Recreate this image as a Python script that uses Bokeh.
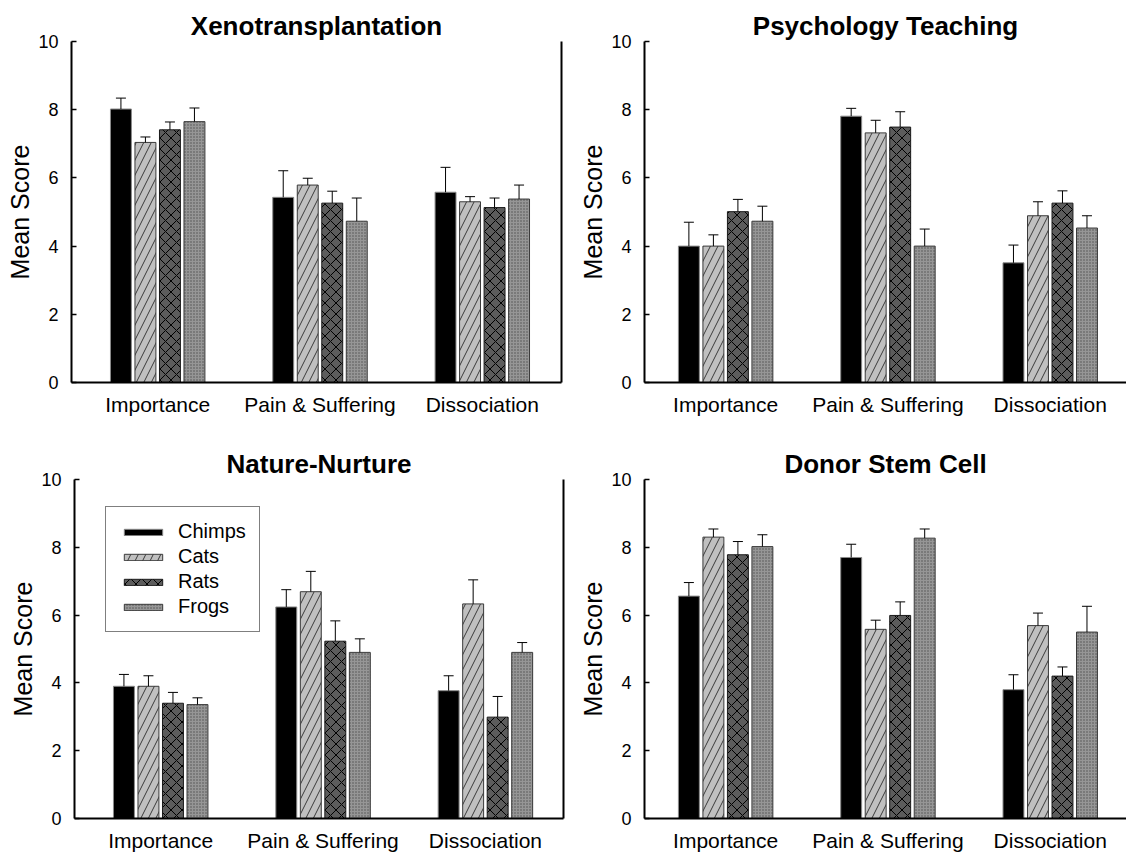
from bokeh.plotting import figure
from bokeh.models import (ColumnDataSource, Range1d, FixedTicker, Whisker, TeeHead,
                          LinearAxis, Legend, LegendItem)
from bokeh.layouts import column, row
from bokeh.embed import file_html
from bokeh.resources import INLINE

FONT = "Liberation Sans"

groups = ["Importance", "Pain & Suffering", "Dissociation"]
species = ["Chimps", "Cats", "Rats", "Frogs"]
titles = ["Xenotransplantation", "Psychology Teaching", "Nature-Nurture", "Donor Stem Cell"]
y_ticks = [0, 2, 4, 6, 8, 10]

# Xenotransplantation
xeno_chimps = [8.02, 5.43, 5.58]
xeno_cats = [7.04, 5.79, 5.30]
xeno_rats = [7.41, 5.26, 5.13]
xeno_frogs = [7.65, 4.73, 5.38]
xeno_chimps_err = [0.32, 0.78, 0.73]
xeno_cats_err = [0.16, 0.20, 0.15]
xeno_rats_err = [0.23, 0.35, 0.28]
xeno_frogs_err = [0.40, 0.68, 0.41]

# Psychology Teaching
psych_chimps = [4.00, 7.81, 3.51]
psych_cats = [4.00, 7.32, 4.89]
psych_rats = [5.01, 7.49, 5.26]
psych_frogs = [4.73, 4.00, 4.53]
psych_chimps_err = [0.70, 0.23, 0.52]
psych_cats_err = [0.33, 0.37, 0.41]
psych_rats_err = [0.36, 0.45, 0.36]
psych_frogs_err = [0.44, 0.50, 0.36]

# Nature-Nurture
nature_chimps = [3.90, 6.24, 3.77]
nature_cats = [3.90, 6.69, 6.33]
nature_rats = [3.40, 5.23, 2.99]
nature_frogs = [3.36, 4.90, 4.90]
nature_chimps_err = [0.35, 0.51, 0.44]
nature_cats_err = [0.31, 0.60, 0.71]
nature_rats_err = [0.32, 0.60, 0.61]
nature_frogs_err = [0.20, 0.40, 0.29]

# Donor Stem Cell
donor_chimps = [6.56, 7.70, 3.80]
donor_cats = [8.30, 5.58, 5.69]
donor_rats = [7.78, 5.99, 4.20]
donor_frogs = [8.02, 8.27, 5.50]
donor_chimps_err = [0.40, 0.39, 0.44]
donor_cats_err = [0.24, 0.27, 0.37]
donor_rats_err = [0.39, 0.40, 0.27]
donor_frogs_err = [0.35, 0.27, 0.76]

panel_means = [
    [xeno_chimps, xeno_cats, xeno_rats, xeno_frogs],
    [psych_chimps, psych_cats, psych_rats, psych_frogs],
    [nature_chimps, nature_cats, nature_rats, nature_frogs],
    [donor_chimps, donor_cats, donor_rats, donor_frogs],
]
panel_errs = [
    [xeno_chimps_err, xeno_cats_err, xeno_rats_err, xeno_frogs_err],
    [psych_chimps_err, psych_cats_err, psych_rats_err, psych_frogs_err],
    [nature_chimps_err, nature_cats_err, nature_rats_err, nature_frogs_err],
    [donor_chimps_err, donor_cats_err, donor_rats_err, donor_frogs_err],
]

STYLES = [
    dict(fill_color="#000000", line_color="#8a8a8a"),
    dict(fill_color="#c0c0c0", line_color="#3a3a3a", hatch_pattern="right_diagonal_line",
         hatch_color="#3a3a3a", hatch_scale=15, hatch_weight=1),
    dict(fill_color="#5c5c5c", line_color="#1a1a1a", hatch_pattern="diagonal_cross",
         hatch_color="#000000", hatch_scale=11, hatch_weight=1),
    dict(fill_color="#969696", line_color="#3a3a3a", hatch_pattern="dot",
         hatch_color="#505050", hatch_scale=3, hatch_weight=1),
]

PITCH = 0.151
BAR_W = 0.129


def make_panel(idx, width, height, bl, br, bt, bb, x0, x1, right_line, legend_loc=None):
    p = figure(width=width, height=height, x_range=Range1d(x0, x1), y_range=Range1d(0, 10),
               output_backend="svg", toolbar_location=None,
               min_border_left=bl, min_border_right=br, min_border_top=bt, min_border_bottom=bb)
    p.outline_line_color = None
    p.background_fill_color = "white"
    p.border_fill_color = "white"
    p.grid.visible = False

    p.title.text = titles[idx]
    p.title.align = "center"
    p.title.text_font = FONT
    p.title.text_font_size = "26px"
    p.title.text_font_style = "bold"
    p.title.text_color = "black"
    p.title.standoff = 2

    # y axis
    ya = p.yaxis[0]
    ya.ticker = FixedTicker(ticks=y_ticks)
    ya.axis_label = "Mean Score"
    ya.axis_label_text_font = FONT
    ya.axis_label_text_font_size = "25px"
    ya.axis_label_text_font_style = "normal"
    ya.axis_label_text_color = "black"
    ya.axis_label_standoff = 1
    ya.major_label_text_font = FONT
    ya.major_label_text_font_size = "18px"
    ya.major_label_text_color = "black"
    ya.major_label_standoff = 13
    ya.major_tick_in = 5
    ya.major_tick_out = 0
    ya.major_tick_line_width = 1.5
    ya.major_tick_line_color = "black"
    ya.minor_tick_line_color = None
    ya.axis_line_width = 2
    ya.axis_line_color = "black"

    # x axis with the group names
    centers = [i + 0.5 for i in range(len(groups))]
    xa = p.xaxis[0]
    xa.ticker = FixedTicker(ticks=centers)
    xa.major_label_overrides = {c: g for c, g in zip(centers, groups)}
    xa.major_label_text_font = FONT
    xa.major_label_text_font_size = "21px"
    xa.major_label_text_color = "black"
    xa.major_label_standoff = 4
    xa.major_tick_line_color = None
    xa.minor_tick_line_color = None
    xa.axis_line_width = 2
    xa.axis_line_color = "black"

    renderers = []
    for k, (means, errs) in enumerate(zip(panel_means[idx], panel_errs[idx])):
        xs = [c + (k - 1.5) * PITCH for c in centers]
        src = ColumnDataSource(dict(x=xs, top=means, upper=[m + e for m, e in zip(means, errs)]))
        r = p.vbar(x="x", top="top", bottom=0, width=BAR_W, source=src, line_width=1, **STYLES[k])
        renderers.append(r)
        p.add_layout(Whisker(source=src, base="x", upper="upper", lower="top",
                             upper_head=TeeHead(size=10, line_width=1, line_color="black"),
                             lower_head=None, line_color="black", line_width=1, level="overlay"))

    if right_line:
        p.add_layout(LinearAxis(ticker=FixedTicker(ticks=[]), axis_line_width=2, axis_line_color="black",
                                major_tick_line_color=None, minor_tick_line_color=None,
                                major_label_text_font_size="0px"), "right")

    if legend_loc is not None:
        items = [LegendItem(label=s, renderers=[r]) for s, r in zip(species, renderers)]
        legend = Legend(items=items, location=legend_loc, orientation="vertical",
                        label_text_font=FONT, label_text_font_size="20px", label_text_color="black",
                        glyph_width=48, glyph_height=8, label_standoff=11, padding=13, spacing=2,
                        label_height=21, border_line_color="black", border_line_width=1,
                        background_fill_color="white", background_fill_alpha=1, margin=0)
        p.add_layout(legend)
    return p


p1 = make_panel(0, 566, 430, 71, 5, 41, 48, -0.031, 2.988, True)
p2 = make_panel(1, 560, 430, 78, 0, 41, 48, 0.0, 2.97, False)
p3 = make_panel(2, 566, 424, 74, 3, 49, 33, -0.031, 2.981, True, legend_loc=(31, 186))
p4 = make_panel(3, 560, 424, 78, 0, 49, 33, 0.0, 2.97, False)

layout = column(row(p1, p2), row(p3, p4))
open("out.html", "w").write(file_html(layout, INLINE))
